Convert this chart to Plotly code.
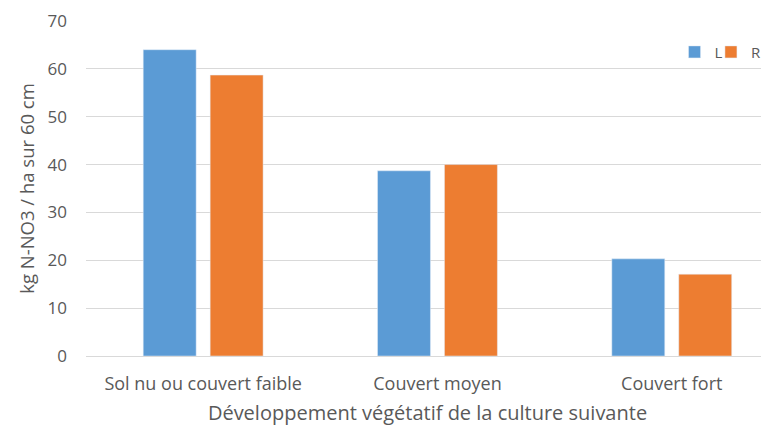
import plotly.graph_objects as go

categories = ["Sol nu ou couvert faible", "Couvert moyen", "Couvert fort"]
series_L = [64.0, 38.7, 20.3]
series_R = [58.7, 40.0, 17.1]
y_ticks = [0, 10, 20, 30, 40, 50, 60, 70]

font_family = "'Open Sans', sans-serif"
grey = "#595959"

fig = go.Figure()
fig.add_trace(go.Bar(name="L", x=categories, y=series_L, marker_color="#5B9BD5",
                     legend="legend"))
fig.add_trace(go.Bar(name="R", x=categories, y=series_R, marker_color="#ED7D31",
                     legend="legend2"))

legend_style = dict(orientation="h", y=0.907, xanchor="left", yanchor="middle",
                    font=dict(size=15, color=grey, family=font_family),
                    bgcolor="rgba(0,0,0,0)", itemwidth=30)

# The page body has an 8px margin; the figure is sized to fit the window.
fig.update_layout(
    width=761, height=422,
    margin=dict(l=78, r=0, t=13, b=74, autoexpand=False),
    paper_bgcolor="white", plot_bgcolor="white",
    barmode="group", bargap=0.4286, bargroupgap=0.209,
    font=dict(family=font_family, color=grey, size=15),
    showlegend=True,
    legend=dict(x=0.8617, **legend_style),
    legend2=dict(x=0.915, **legend_style),
)
fig.update_xaxes(
    range=[-0.5, 2.415], showgrid=False, showline=False, ticks="",
    automargin=False, ticklabelstandoff=15,
    tickfont=dict(size=18, color=grey),
    title=dict(text="Développement végétatif de la culture suivante",
               font=dict(size=20, color=grey), standoff=11),
)
fig.update_yaxes(
    range=[0, 70], tickvals=y_ticks, showgrid=True, gridcolor="#D9D9D9", gridwidth=1,
    zeroline=True, zerolinecolor="#D9D9D9", zerolinewidth=1,
    showline=False, ticks="", ticklabelstandoff=18, automargin=False,
    tickfont=dict(size=17, color=grey),
    title=dict(text="kg N-NO3 / ha sur 60 cm", font=dict(size=18.5, color=grey), standoff=8),
)

fig.write_html("out.html")
